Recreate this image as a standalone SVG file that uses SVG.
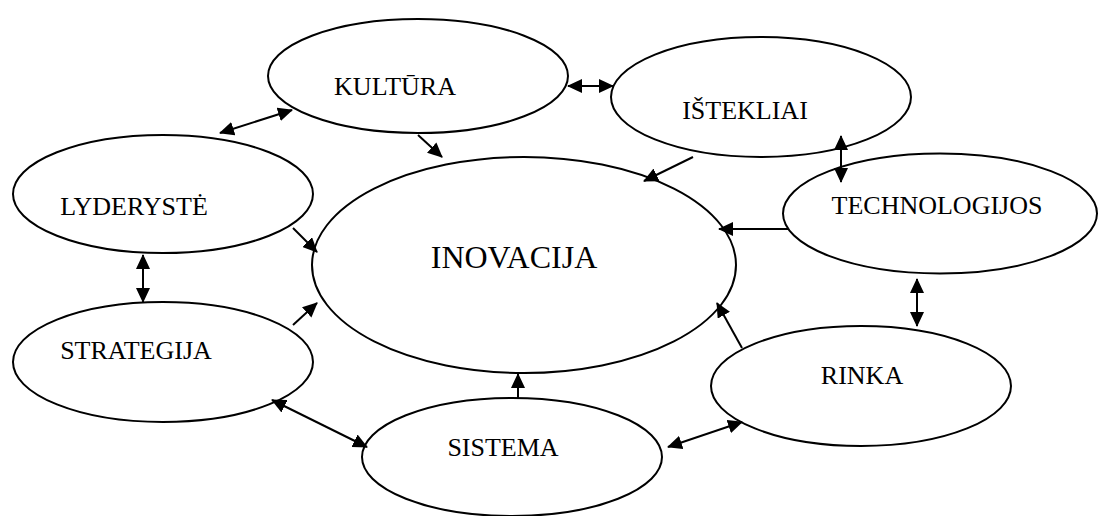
<svg xmlns="http://www.w3.org/2000/svg" width="1101" height="516" viewBox="0 0 1101 516">
<style>
.n ellipse{fill:#fff;stroke:#000;stroke-width:2}
.n text{font-family:"Liberation Serif","Times New Roman",serif;font-size:26px;fill:#000;text-anchor:middle}
#connectors line{stroke:#000;stroke-width:2}
.one{marker-end:url(#ah)}
.two{marker-start:url(#ah);marker-end:url(#ah)}
</style>
<defs>
<marker id="ah" viewBox="0 0 15 14" refX="14" refY="7" markerWidth="15" markerHeight="14" markerUnits="userSpaceOnUse" orient="auto-start-reverse">
<path d="M0,0 L15,7 L0,14 z" fill="#000"/>
</marker>
</defs>
<rect width="1101" height="516" fill="#fff"/>
<g id="inovacija" class="n"><ellipse cx="524" cy="265" rx="212" ry="108"/><text x="514" y="268" style="font-size:32px">INOVACIJA</text></g>
<g id="kultura" class="n"><ellipse cx="418" cy="76" rx="150" ry="57"/><text x="395" y="95">KULTŪRA</text></g>
<g id="istekliai" class="n"><ellipse cx="761" cy="97" rx="150" ry="60"/><text x="745" y="119">IŠTEKLIAI</text></g>
<g id="technologijos" class="n"><ellipse cx="940" cy="213.5" rx="157" ry="60"/><text x="937" y="214">TECHNOLOGIJOS</text></g>
<g id="lyderyste" class="n"><ellipse cx="163" cy="194" rx="150" ry="59"/><text x="134" y="215">LYDERYSTĖ</text></g>
<g id="strategija" class="n"><ellipse cx="163" cy="362" rx="150" ry="60"/><text x="136" y="359">STRATEGIJA</text></g>
<g id="sistema" class="n"><ellipse cx="512" cy="457" rx="150" ry="59"/><text x="503" y="456">SISTEMA</text></g>
<g id="rinka" class="n"><ellipse cx="861" cy="386" rx="150" ry="60"/><text x="862" y="384">RINKA</text></g>
<g id="connectors">
<line class="two" x1="568" y1="86" x2="613" y2="86"/>
<line class="two" x1="220" y1="133" x2="292" y2="110"/>
<line class="one" x1="418" y1="135" x2="442" y2="157"/>
<line class="one" x1="693" y1="157" x2="644" y2="181"/>
<line class="two" x1="841" y1="136" x2="841" y2="182"/>
<line class="one" x1="788" y1="229" x2="719" y2="229"/>
<line class="two" x1="917" y1="279" x2="917" y2="326"/>
<line class="one" x1="742" y1="348" x2="717" y2="303"/>
<line class="two" x1="668" y1="447" x2="742" y2="422"/>
<line class="one" x1="518" y1="398" x2="518" y2="374"/>
<line class="two" x1="272" y1="400" x2="367" y2="447"/>
<line class="one" x1="293" y1="325" x2="317" y2="303"/>
<line class="one" x1="293" y1="228" x2="317" y2="252"/>
<line class="two" x1="143" y1="255" x2="143" y2="302"/>
</g>
</svg>
